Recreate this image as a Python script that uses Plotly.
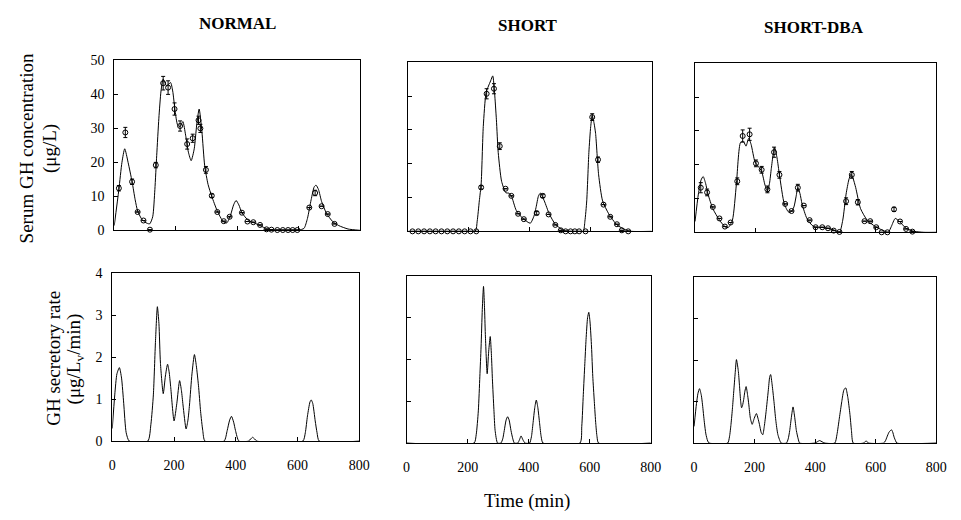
import plotly.graph_objects as go

# ---------------- data ----------------
# Serum GH concentration: fitted curves (time in min, value in ug/L)
normal_curve_t = [0, 15, 25, 34, 45, 58, 68, 76, 88, 100, 115, 125, 132, 138, 145, 152, 159, 170, 183, 190, 198, 206, 214, 223, 232, 241, 250, 260, 268, 276, 285, 294, 305, 317, 335, 354, 366, 378, 388, 396, 405, 415, 436, 455, 474, 495, 520, 600, 617, 628, 640, 650, 656, 664, 674, 690, 710, 730, 760, 800]
normal_curve_v = [1.4, 12, 20, 24, 20, 14.3, 9, 5.7, 3.5, 2.4, 1.9, 4, 12, 22, 33, 41, 44.5, 42.5, 43.5, 41, 35, 31, 30.5, 32, 28, 23, 20.5, 24, 31, 35.7, 29, 19, 13.5, 10, 5.7, 2.6, 2.2, 4.5, 7.5, 8.8, 7.5, 5.2, 2.9, 2.2, 1.4, 0.5, 0.1, 0.1, 0.6, 3.5, 9, 12.8, 13.3, 12, 8.5, 5, 2.6, 1.4, 0.4, 0]

short_curve_t = [0, 221, 228, 235, 241, 248, 257, 265, 272, 279, 285, 291, 297, 308, 322, 332, 340, 356, 378, 402, 414, 421, 429, 435, 448, 464, 484, 507, 529, 575, 581, 587, 594, 600, 605, 611, 616, 626, 639, 659, 686, 713, 734, 800]
short_curve_v = [0, 0, 3, 9, 14, 31, 41, 43, 44.5, 46, 41, 33, 23.3, 14.8, 11.4, 11.3, 10.5, 6.2, 3.8, 2.4, 4.5, 7.1, 10.5, 11.3, 9, 5.2, 2.1, 0.5, 0, 0, 3, 9, 23.3, 31, 34.3, 32, 29, 16.7, 9, 5.2, 1.9, 0.5, 0, 0]

dba_curve_t = [0, 11, 20, 27, 35, 43, 59, 81, 100, 110, 124, 137, 151, 161, 169, 178, 186, 199, 210, 221, 232, 240, 247, 253, 259, 264, 272, 280, 296, 310, 318, 328, 335, 341, 348, 355, 371, 393, 425, 458, 479, 490, 501, 510, 517, 524, 533, 549, 571, 598, 630, 641, 651, 664, 678, 700, 727, 759, 800]
dba_curve_v = [3.2, 11.3, 15.5, 16.5, 14.5, 11.3, 7, 3.6, 1.6, 1.4, 3.6, 14.1, 26.6, 26.8, 25.5, 27.8, 26, 20.8, 19.5, 18, 14, 12.2, 14.5, 18.9, 23, 25.1, 22, 17, 8.4, 6, 6, 7.5, 10.5, 13.2, 11.5, 8.4, 4.1, 1.7, 1.4, 0.8, 0, 3.6, 11.3, 15.5, 17.2, 16, 13.2, 7, 3.6, 1.7, 0.3, 0, 1.7, 4.1, 3.2, 1.2, 0.3, 0, 0]

# Serum GH concentration: measured samples with SEM
normal_pts_t = [15, 36, 58, 76, 95, 116, 135, 159, 175, 196, 214, 237, 255, 274, 280, 298, 317, 335, 356, 375, 415, 433, 452, 474, 495, 511, 530, 548, 565, 580, 595, 634, 653, 674, 694, 716]
normal_pts_v = [12.4, 28.8, 14.3, 5.4, 2.9, 0.2, 19.2, 43.3, 42, 35.7, 30.7, 25.4, 27.1, 32.4, 30, 17.8, 10.2, 5.4, 2.7, 4, 5.2, 2.6, 2.4, 1.6, 0.3, 0.2, 0.1, 0.1, 0.1, 0.1, 0.1, 6.7, 11, 7.1, 4.8, 1.9]
normal_pts_e = [0.8, 1.5, 0.8, 0, 0, 0, 0.8, 2, 2, 1.8, 1.5, 1.5, 1.2, 1.2, 1.2, 1, 0.5, 0, 0, 0, 0, 0, 0, 0, 0, 0, 0, 0, 0, 0, 0, 0, 0.8, 0, 0, 0]

short_pts_t = [16, 35, 54, 73, 92, 111, 130, 149, 168, 187, 206, 225, 241, 259, 283, 302, 321, 340, 362, 381, 423, 443, 462, 484, 502, 518, 534, 548, 562, 583, 605, 624, 642, 664, 686, 702, 723]
short_pts_v = [0, 0, 0, 0, 0, 0, 0, 0, 0, 0, 0, 0, 13, 40.7, 42.2, 25.2, 12.6, 10.5, 5.2, 3.6, 5.4, 10.5, 5, 1.9, 0.3, 0, 0, 0, 0, 0, 33.8, 21.2, 7.9, 4.3, 2.1, 0.3, 0]
short_pts_e = [0, 0, 0, 0, 0, 0, 0, 0, 0, 0, 0, 0, 0.5, 1.5, 1.5, 1, 0, 0, 0, 0, 0.5, 0.5, 0, 0, 0, 0, 0, 0, 0, 0, 1, 0.8, 0, 0, 0, 0, 0]

dba_pts_t = [19, 40, 59, 81, 99, 118, 140, 158, 181, 202, 221, 240, 262, 280, 299, 320, 341, 361, 380, 400, 422, 441, 460, 479, 501, 520, 540, 562, 581, 601, 619, 638, 660, 680, 700, 721]
dba_pts_v = [13.2, 11.8, 7.5, 4.1, 1.7, 2.9, 15.1, 28.5, 29, 20.4, 18.5, 12.7, 23.7, 17, 8.4, 6.3, 13.2, 7.9, 3.6, 1.5, 1.5, 1.2, 0.5, 0.1, 9.2, 17, 8.9, 3.3, 3.3, 1.5, 0, 0, 6.8, 3.2, 1, 0.2]
dba_pts_e = [1.5, 1, 0, 0, 0, 0, 1, 1.8, 1.8, 1, 1, 1, 1.5, 1, 0, 0, 1, 0, 0, 0, 0, 0, 0, 0, 1, 1, 0.8, 0, 0, 0, 0, 0, 0.6, 0, 0, 0]

# GH secretory rate (ug/Lv/min)
normal_rate_t = [0, 8, 15, 23, 30, 37, 45, 55, 115, 125, 133, 140, 146, 151, 156, 165, 172, 179, 184, 189, 200, 209, 218, 224, 229, 239, 245, 250, 258, 266, 272, 279, 286, 293, 300, 362, 372, 380, 386, 393, 399, 410, 441, 448, 454, 461, 468, 617, 625, 632, 640, 644, 649, 657, 663, 670, 800]
normal_rate_v = [0.3, 1.1, 1.6, 1.75, 1.5, 0.9, 0.2, 0, 0, 0.4, 1.1, 2.4, 3.2, 2.8, 1.85, 1.13, 1.55, 1.83, 1.65, 1.3, 0.48, 0.9, 1.44, 1.2, 0.86, 0.29, 0.5, 0.86, 1.6, 2.06, 1.8, 1.33, 0.7, 0.25, 0, 0, 0.25, 0.5, 0.59, 0.45, 0.25, 0, 0, 0.05, 0.09, 0.05, 0, 0, 0.2, 0.6, 0.93, 0.98, 0.9, 0.48, 0.2, 0, 0]

short_rate_t = [0, 221, 228, 235, 240, 244, 248, 252, 255, 258, 264, 269, 274, 278, 281, 286, 290, 298, 309, 315, 320, 326, 331, 336, 342, 348, 353, 364, 370, 375, 381, 388, 403, 409, 414, 420, 425, 430, 436, 441, 447, 568, 574, 579, 584, 588, 593, 597, 601, 606, 610, 615, 620, 624, 629, 800]
short_rate_v = [0, 0, 0.2, 0.77, 1.6, 2.3, 3.2, 3.75, 3.3, 2.6, 1.66, 2.2, 2.55, 2.1, 1.55, 0.8, 0.3, 0, 0, 0.1, 0.3, 0.55, 0.63, 0.55, 0.3, 0.1, 0, 0, 0.08, 0.17, 0.08, 0, 0, 0.15, 0.46, 0.85, 1.03, 0.85, 0.46, 0.15, 0, 0, 0.4, 1.16, 1.9, 2.48, 3.0, 3.13, 2.9, 2.3, 1.6, 1.0, 0.45, 0.15, 0, 0]

dba_rate_t = [0, 8, 13, 18, 24, 28, 34, 39, 45, 50, 111, 117, 122, 127, 131, 136, 140, 146, 150, 154, 157, 160, 164, 168, 172, 177, 181, 186, 192, 199, 206, 211, 216, 222, 227, 232, 238, 245, 250, 253, 258, 264, 270, 277, 288, 305, 311, 316, 322, 327, 332, 338, 344, 349, 399, 407, 415, 423, 432, 465, 472, 480, 488, 495, 501, 508, 515, 520, 526, 560, 568, 577, 626, 632, 637, 644, 652, 656, 661, 666, 670, 800]
dba_rate_v = [0.4, 0.95, 1.2, 1.31, 1.15, 0.92, 0.5, 0.22, 0.05, 0, 0, 0.15, 0.45, 0.85, 1.23, 1.7, 2.01, 1.75, 1.39, 1.0, 0.85, 0.9, 1.05, 1.25, 1.36, 1.15, 0.92, 0.6, 0.45, 0.6, 0.71, 0.6, 0.45, 0.25, 0.2, 0.4, 0.76, 1.25, 1.6, 1.65, 1.4, 1.0, 0.55, 0.2, 0, 0, 0.1, 0.3, 0.65, 0.87, 0.65, 0.3, 0.1, 0, 0, 0.03, 0.06, 0.03, 0, 0, 0.2, 0.6, 1.0, 1.28, 1.33, 1.1, 0.69, 0.3, 0, 0, 0.05, 0, 0, 0.05, 0.14, 0.26, 0.32, 0.27, 0.14, 0.05, 0, 0]

group_titles = ["NORMAL", "SHORT", "SHORT-DBA"]
time_ticks = [0, 200, 400, 600, 800]
conc_ticks = [0, 10, 20, 30, 40, 50]
rate_ticks = [0, 1, 2, 3, 4]

# ---------------- figure ----------------
W, H = 961, 520
SERIF = "Liberation Serif"

def dx(a, b):
    return [a / W, b / W]

def dy(top, bottom):
    return [1 - bottom / H, 1 - top / H]

fig = go.Figure()

curves = [(normal_curve_t, normal_curve_v), (short_curve_t, short_curve_v), (dba_curve_t, dba_curve_v)]
points = [(normal_pts_t, normal_pts_v, normal_pts_e), (short_pts_t, short_pts_v, short_pts_e), (dba_pts_t, dba_pts_v, dba_pts_e)]
rates = [(normal_rate_t, normal_rate_v), (short_rate_t, short_rate_v), (dba_rate_t, dba_rate_v)]

for i in range(3):
    xa = "x" if i == 0 else f"x{i+1}"
    ya = "y" if i == 0 else f"y{i+1}"
    ct, cv = curves[i]
    fig.add_trace(go.Scatter(x=ct, y=cv, mode="lines", xaxis=xa, yaxis=ya,
                             line=dict(color="black", width=1, shape="spline", smoothing=0.6),
                             cliponaxis=True, hoverinfo="skip"))
    pt, pv, pe = points[i]
    fig.add_trace(go.Scatter(x=pt, y=pv, mode="markers", xaxis=xa, yaxis=ya,
                             marker=dict(symbol="circle-open", size=5, color="black", line=dict(width=1)),
                             error_y=dict(type="data", array=pe, visible=True, color="black", thickness=1, width=2),
                             cliponaxis=False))
    rt, rv = rates[i]
    xb = f"x{i+4}"
    yb = f"y{i+4}"
    fig.add_trace(go.Scatter(x=rt, y=rv, mode="lines", xaxis=xb, yaxis=yb,
                             line=dict(color="black", width=1, shape="spline", smoothing=0.6),
                             cliponaxis=True))

top_x = [(112, 362), (410, 658), (702, 947)]
top_y = [(55, 230), (57, 231), (58, 232)]
bot_x = [(110, 361), (409, 657), (701, 947)]
bot_y = [(274, 447), (277, 449), (278, 449)]

common = dict(showline=True, mirror=True, linecolor="black", linewidth=1, showgrid=False,
              zeroline=False, ticks="inside", ticklen=4, tickcolor="black", tickwidth=1,
              tickfont=dict(family=SERIF, size=14, color="black"))

layout = dict(width=W, height=H, margin=dict(l=0, r=0, t=0, b=0),
              plot_bgcolor="white", paper_bgcolor="white", showlegend=False)

for i in range(3):
    n = "" if i == 0 else str(i + 1)
    layout[f"xaxis{n}"] = dict(common, domain=dx(*top_x[i]), range=[0, 800], anchor=f"y{n}",
                               tickvals=time_ticks, showticklabels=False)
    layout[f"yaxis{n}"] = dict(common, domain=dy(*top_y[i]), range=[0, 50], anchor=f"x{n}",
                               tickvals=conc_ticks, showticklabels=(i == 0), ticklabelstandoff=6)
    m = str(i + 4)
    layout[f"xaxis{m}"] = dict(common, domain=dx(*bot_x[i]), range=[0, 800], anchor=f"y{m}",
                               tickvals=time_ticks, showticklabels=True, ticklabelstandoff=11)
    layout[f"yaxis{m}"] = dict(common, domain=dy(*bot_y[i]), range=[0, 4], anchor=f"x{m}",
                               tickvals=rate_ticks, showticklabels=(i == 0), ticklabelstandoff=6)

fig.update_layout(**layout)

ann = []
title_x = [237, 532, 823]
title_y = [17, 19, 21]
for i, t in enumerate(group_titles):
    ann.append(dict(text=f"<b>{t}</b>", x=title_x[i] / W, y=1 - title_y[i] / H, xref="paper", yref="paper",
                    showarrow=False, xanchor="center", yanchor="middle",
                    font=dict(family=SERIF, size=17, color="black")))

ylab = [("Serum GH concentration", 23, 146), ("(μg/L)", 47, 146),
        ("GH secretory rate", 50, 362), ("(μg/L<sub>v</sub>/min)", 72, 362)]
for text, px, py in ylab:
    ann.append(dict(text=text, x=px / W, y=1 - py / H, xref="paper", yref="paper", textangle=-90,
                    showarrow=False, xanchor="center", yanchor="middle",
                    font=dict(family=SERIF, size=19, color="black")))

ann.append(dict(text="Time (min)", x=531 / W, y=1 - 509 / H, xref="paper", yref="paper",
                showarrow=False, xanchor="center", yanchor="middle",
                font=dict(family=SERIF, size=19, color="black")))

fig.update_layout(annotations=ann)
fig.write_html("out.html", config={"displayModeBar": False},
               post_script="document.body.style.margin='0';document.body.style.padding='0';")
